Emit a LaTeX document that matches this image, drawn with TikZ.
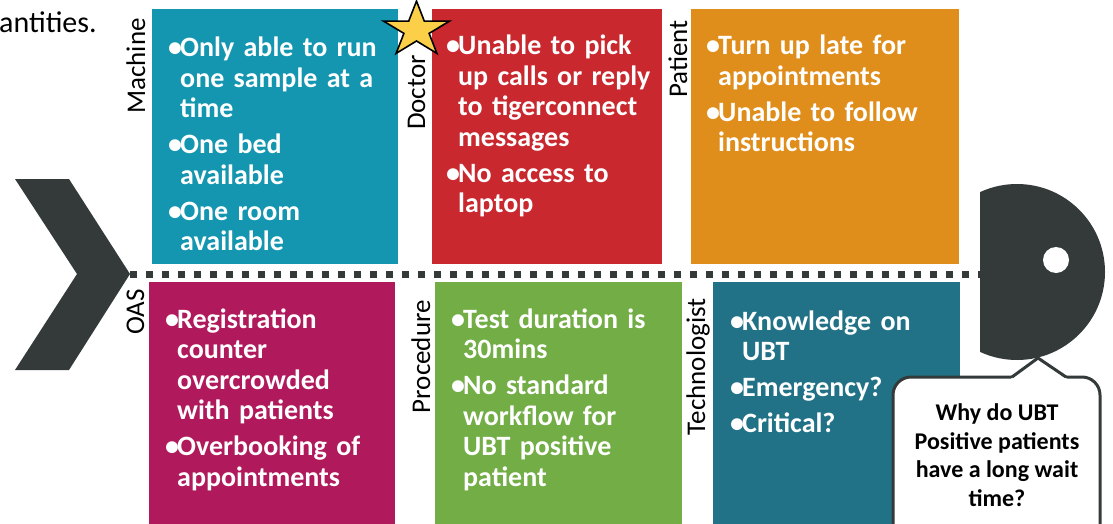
\documentclass[tikz,border=0pt]{standalone}
\usepackage{fontspec}
\setmainfont{Carlito}
\definecolor{spine}{HTML}{343A3A}
\definecolor{machinec}{HTML}{1496B0}
\definecolor{doctorc}{HTML}{C8282E}
\definecolor{patientc}{HTML}{E08E1B}
\definecolor{oasc}{HTML}{B0195C}
\definecolor{procc}{HTML}{72AD46}
\definecolor{techc}{HTML}{217287}
\definecolor{starc}{HTML}{FBCF47}
% one bullet point with hanging indent, each item closed by \par
\newcommand\bul{\noindent\hangindent=10pt\hangafter=1\makebox[10pt][l]{\hspace*{-2pt}\textbullet}}
\tikzset{
  box/.style={anchor=north west,inner sep=0,outer sep=0},
  items/.style={anchor=base west,inner sep=0,text=white,text width=240pt,align=left,
    font=\fontsize{28}{30.5}\selectfont\bfseries\setlength{\parskip}{5.5pt}},
  tag/.style={rotate=90,anchor=base east,inner sep=0,font=\fontsize{27}{30}\selectfont},
}
\begin{document}
\begin{tikzpicture}[x=1pt,y=-1pt,line join=round]
  \useasboundingbox (0,0) rectangle (1113,524);
  \clip (0,0) rectangle (1113,524);
  \node[anchor=base west,inner sep=0,font=\fontsize{30}{36}\selectfont] (intro) at (-1,33) {antities.};
  % spine, tail and head
  \coordinate (tail) at (130,274); \coordinate (head) at (982,274);
  \draw[spine,line width=7pt,dash pattern=on 7pt off 9pt] (tail) -- (head);
  \fill[spine] (15,179) -- (69,179) -- (tail) -- (69,370) -- (15,370) -- (77,274) -- cycle;
  \begin{scope}
    \clip (980,150) rectangle (1120,400);
    \fill[spine] (1017,272) circle (88);
  \end{scope}
  \fill[white] (1056,260) circle (13);
  % upper bones
  \node[box,fill=machinec,minimum width=246pt,minimum height=255pt] (machine) at (152,9) {};
  \node[box,fill=doctorc,minimum width=230pt,minimum height=255pt] (doctor) at (432,9) {};
  \node[box,fill=patientc,minimum width=268pt,minimum height=255pt] (patient) at (691,9) {};
  \node[tag] (machine tag) at (145,18) {Machine};
  \node[tag] (doctor tag) at (425,55) {Doctor};
  \node[tag] (patient tag) at (687,20) {Patient};
  \node[items] (machine list) at (170,57) {\bul Only able to run\newline one sample at a\newline time\par
    \bul One bed\newline available\par \bul One room\newline available\par};
  \node[items] (doctor list) at (448,55) {\bul Unable to pick\newline up calls or reply\newline to tigerconnect\newline messages\par
    \bul No access to\newline laptop\par};
  \node[items] (patient list) at (708,55) {\bul Turn up late for\newline appointments\par
    \bul Unable to follow\newline instructions\par};
  % lower bones
  \node[box,fill=oasc,minimum width=246pt,minimum height=250pt] (oas) at (149,282) {};
  \node[box,fill=procc,minimum width=247pt,minimum height=250pt] (procedure) at (435,282) {};
  \node[box,fill=techc,minimum width=247pt,minimum height=250pt] (tech) at (713,282) {};
  \node[tag] (oas tag) at (144,289) {OAS};
  \node[tag] (procedure tag) at (430,300) {Procedure};
  \node[tag] (tech tag) at (705,298) {Technologist};
  \node[items] (oas list) at (167,328) {\bul Registration\newline counter\newline overcrowded\newline with patients\par
    \bul Overbooking of\newline appointments\par};
  \node[items] (procedure list) at (453,328) {\bul Test duration is\newline 30mins\par
    \bul No standard\newline workflow for\newline UBT positive\newline patient\par};
  \node[items] (tech list) at (732,330) {\bul Knowledge on\newline UBT\par \bul Emergency?\par \bul Critical?\par};
  % star on the doctor bone
  \draw[fill=starc,line width=1.6pt,line join=miter] (416.5,1.1) -- (424.3,21.1) -- (449.5,21.1) -- (429.1,33.4)
    -- (436.9,53.4) -- (416.5,41) -- (396.1,53.4) -- (403.9,33.4) -- (383.5,21.1) -- (408.7,21.1) -- cycle;
  % speech bubble under the head
  \draw[spine,fill=white,line width=3pt,rounded corners=18pt] (893,377) rectangle (1100,545);
  \fill[white] (1010,379.6) -- (1038,358) -- (1068,379.6) -- cycle;
  \draw[spine,line width=3pt] (1012,377) -- (1038,358) -- (1066,377);
  \node[anchor=base,inner sep=0,align=center,font=\fontsize{24}{28.5}\selectfont\bfseries] (question) at (997,506)
    {Why do UBT\\Positive patients\\have a long wait\\time?};
\end{tikzpicture}
\end{document}
